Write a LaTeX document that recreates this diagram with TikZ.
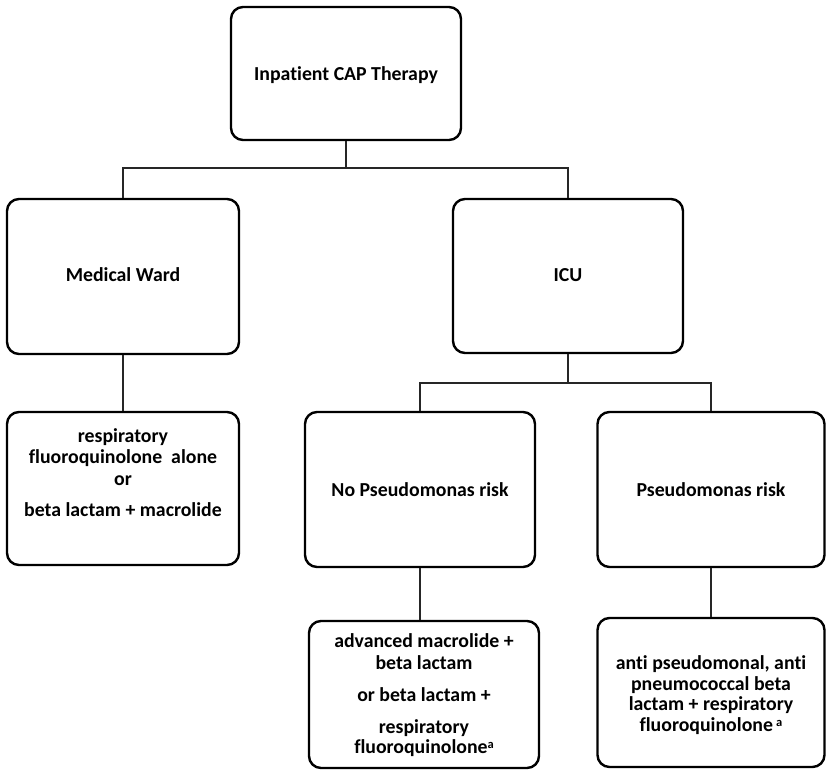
\documentclass[tikz,border=0pt]{standalone}
\usepackage{fontspec}
\setmainfont{Carlito}[Ligatures={NoCommon,NoContextual}]
\newcommand{\supa}{\raisebox{0.45ex}{\fontsize{12.5}{13}\selectfont a}}
\begin{document}
\begin{tikzpicture}[x=1pt,y=-1pt,
  box/.style={draw=black, line width=2.4pt, rounded corners=12pt, fill=white, inner sep=0pt},
  conn/.style={draw=black!85, line width=1.1pt},
  txt/.style={font=\fontsize{19.8}{23}\selectfont\bfseries, inner sep=0pt, anchor=base}]
\useasboundingbox (0,0) rectangle (826,770);
% boxes
\node[box, minimum width=230pt, minimum height=133pt] (A) at (346,73.5) {};
\node[box, minimum width=232pt, minimum height=155pt] (B) at (123,276.5) {};
\node[box, minimum width=230pt, minimum height=154pt] (C) at (568,276) {};
\node[box, minimum width=232pt, minimum height=153pt] (D) at (123,488.5) {};
\node[box, minimum width=230pt, minimum height=155pt] (E) at (420,489.5) {};
\node[box, minimum width=227pt, minimum height=155pt] (F) at (711,489.5) {};
\node[box, minimum width=230pt, minimum height=147pt] (G) at (424,694.5) {};
\node[box, minimum width=227pt, minimum height=149pt] (H) at (711,692.5) {};
% texts
\node[txt] (tA) at (346,81) {Inpatient CAP Therapy};
\node[txt] (tB) at (123,281) {Medical Ward};
\node[txt] (tC) at (568,281) {ICU};
\node[txt] (tE) at (420,496) {No Pseudomonas risk};
\node[txt] (tF) at (711,496) {Pseudomonas risk};
\node[txt] (tD1) at (123,442) {respiratory};
\node[txt] (tD2) at (123,463) {fluoroquinolone\hspace{0.45em}alone};
\node[txt] (tD3) at (123,485) {or};
\node[txt] (tD4) at (123,516) {beta lactam + macrolide};
\node[txt] (tG1) at (424,647) {advanced macrolide +};
\node[txt] (tG2) at (424,669) {beta lactam};
\node[txt] (tG3) at (424,701) {or beta lactam +};
\node[txt] (tG4) at (424,733) {respiratory};
\node[txt] (tG5) at (424,753) {fluoroquinolone\supa};
\node[txt] (tH1) at (711,669) {anti pseudomonal, anti};
\node[txt] (tH2) at (711,690) {pneumococcal beta};
\node[txt] (tH3) at (711,710) {lactam + respiratory};
\node[txt] (tH4) at (711,731) {fluoroquinolone\,\supa};
% connectors
\coordinate (j1) at (346,168);
\coordinate (j2) at (568,383);
\draw[conn] (A.south) -- (j1);
\draw[conn] (B.north) |- (j1) -| (C.north);
\draw[conn] (B.south) -- (D.north);
\draw[conn] (C.south) -- (j2);
\draw[conn] (E.north) |- (j2) -| (F.north);
\draw[conn] (E.south) -- (E.south |- G.north);
\draw[conn] (F.south) -- (H.north);
\end{tikzpicture}
\end{document}
